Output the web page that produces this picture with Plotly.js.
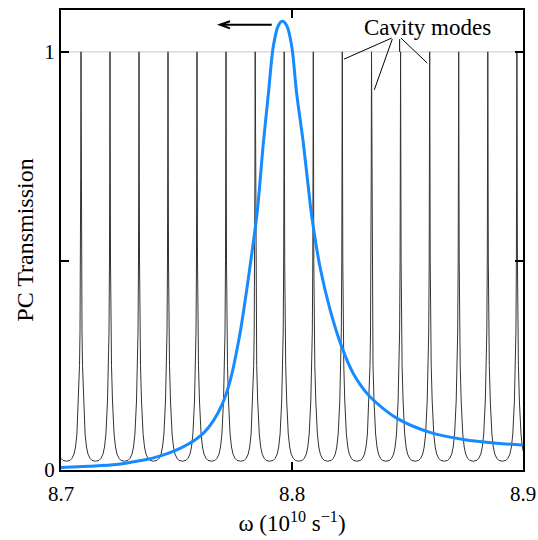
<!DOCTYPE html>
<html>
<head>
<meta charset="utf-8">
<script src="https://cdn.plot.ly/plotly-3.0.1.min.js"></script>
<style>html,body{margin:0;padding:0;background:#fff}#chart{width:538px;height:540px}</style>
</head>
<body>
<div id="chart"></div>
<script>
// Cavity mode peak centres (omega, 10^10 s^-1)
const modeCenters = [8.69610, 8.70866, 8.72121, 8.73377, 8.74632, 8.75887, 8.77143, 8.78407,
  8.79662, 8.80922, 8.82177, 8.83442, 8.84701, 8.85961, 8.87216, 8.88476, 8.89736, 8.90990];
// Shape of one cavity mode: offset from its centre and transmission
const modeOffsets = [-0.00628, -0.00476, -0.0039, -0.00303, -0.00238, -0.00177, -0.00108, -0.00065,
  -0.00043, -0.00022, -0.00013, 0, 0.00013, 0.00022, 0.00043, 0.00065, 0.00108, 0.00177, 0.00238,
  0.00303, 0.0039, 0.00476, 0.00628];
const modeValues = [0.021, 0.023, 0.028, 0.038, 0.055, 0.086, 0.165, 0.25,
  0.33, 0.5, 0.7, 1.0, 0.7, 0.5, 0.33, 0.25, 0.165, 0.086, 0.055,
  0.038, 0.028, 0.023, 0.021];
// Photonic crystal transmission (blue curve)
const pcOmega = [8.700, 8.712, 8.724, 8.734, 8.740, 8.746, 8.752, 8.758, 8.762, 8.766, 8.770,
  8.7733, 8.7775, 8.7804, 8.7826, 8.7850, 8.7876, 8.7898, 8.7919, 8.7941, 8.7958, 8.7977,
  8.7999, 8.8020, 8.8049, 8.8080, 8.8092, 8.8121, 8.8165, 8.8215, 8.8265, 8.8338, 8.8453,
  8.8597, 8.8742, 8.8886, 8.9000];
const pcTrans = [0.006, 0.009, 0.013, 0.022, 0.029, 0.039, 0.053, 0.072, 0.090, 0.118, 0.160,
  0.215, 0.327, 0.431, 0.518, 0.620, 0.782, 0.901, 1.013, 1.063, 1.073, 1.063,
  1.013, 0.901, 0.782, 0.630, 0.582, 0.486, 0.383, 0.295, 0.231, 0.175, 0.124,
  0.090, 0.073, 0.064, 0.060];
const xTickVals = [8.7, 8.8, 8.9];
const xTickText = ['8.7', '8.8', '8.9'];
const yTickVals = [0, 1];
const yTickText = ['0', '1'];
const yMinorTickVals = [0.5];

const modeX = [], modeY = [];
modeCenters.forEach(c => {
  modeOffsets.forEach((o, i) => { modeX.push(c + o); modeY.push(modeValues[i]); });
});

const FONT = 'Liberation Serif, Times New Roman, serif';

const traces = [
  {x: modeX, y: modeY, type: 'scatter', mode: 'lines', line: {color: '#333', width: 1},
   hoverinfo: 'skip', showlegend: false},
  {x: pcOmega, y: pcTrans, type: 'scatter', mode: 'lines',
   line: {color: 'rgb(22,138,255)', width: 3, shape: 'spline', smoothing: 0.8},
   showlegend: false}
];

const axisCommon = {
  showline: true, linecolor: '#000', linewidth: 2, mirror: 'ticks',
  ticks: 'inside', ticklen: 8, tickwidth: 2, tickcolor: '#000',
  showgrid: false, zeroline: false,
  tickfont: {family: FONT, size: 21, color: '#000'}
};

const layout = {
  width: 538, height: 540,
  margin: {l: 61, r: 15, t: 10, b: 70},
  paper_bgcolor: '#fff', plot_bgcolor: '#fff',
  font: {family: FONT, color: '#000'},
  xaxis: Object.assign({}, axisCommon, {
    range: [8.7, 8.9], tickvals: xTickVals, ticktext: xTickText, ticklabelstandoff: 4,
    title: {text: 'ω (10<sup>10</sup> s<sup>−1</sup>)', font: {family: FONT, size: 23}, standoff: 10}
  }),
  yaxis: Object.assign({}, axisCommon, {
    range: [0, 1.1], tickvals: yTickVals, ticktext: yTickText,
    minor: {tickvals: yMinorTickVals, ticks: 'inside', ticklen: 8, tickwidth: 2, tickcolor: '#000', showgrid: false},
    title: {text: 'PC Transmission', font: {family: FONT, size: 24}, standoff: 4}
  }),
  shapes: [
    {type: 'line', xref: 'x', yref: 'y', x0: 8.7, x1: 8.9, y0: 1, y1: 1, layer: 'below',
     line: {color: '#dcdcdc', width: 1.5}},
    {type: 'path', xref: 'x', yref: 'y', path: 'M8.84316,1.0328 L8.82251,0.9825', line: {color: '#000', width: 1}},
    {type: 'path', xref: 'x', yref: 'y', path: 'M8.84342,1.0304 L8.83563,0.9091', line: {color: '#000', width: 1}},
    {type: 'path', xref: 'x', yref: 'y', path: 'M8.84660,1.0304 L8.84660,1.0', line: {color: '#000', width: 1}},
    {type: 'path', xref: 'x', yref: 'y', path: 'M8.84719,1.0328 L8.85857,0.973', line: {color: '#000', width: 1}},
    {type: 'path', xref: 'x', yref: 'y', path: 'M8.79121,1.0646 L8.76883,1.0646', line: {color: '#000', width: 2}},
    {type: 'path', xref: 'x', yref: 'y', path: 'M8.77316,1.073 L8.76883,1.0646 L8.77316,1.0562', line: {color: '#000', width: 2}}
  ],
  annotations: [
    {text: 'Cavity modes', xref: 'x', yref: 'y', x: 8.8588, y: 1.057, xanchor: 'center', yanchor: 'middle',
     showarrow: false, font: {family: FONT, size: 23, color: '#000'}}
  ]
};

Plotly.newPlot('chart', traces, layout, {displayModeBar: false, staticPlot: true});
</script>
</body>
</html>
